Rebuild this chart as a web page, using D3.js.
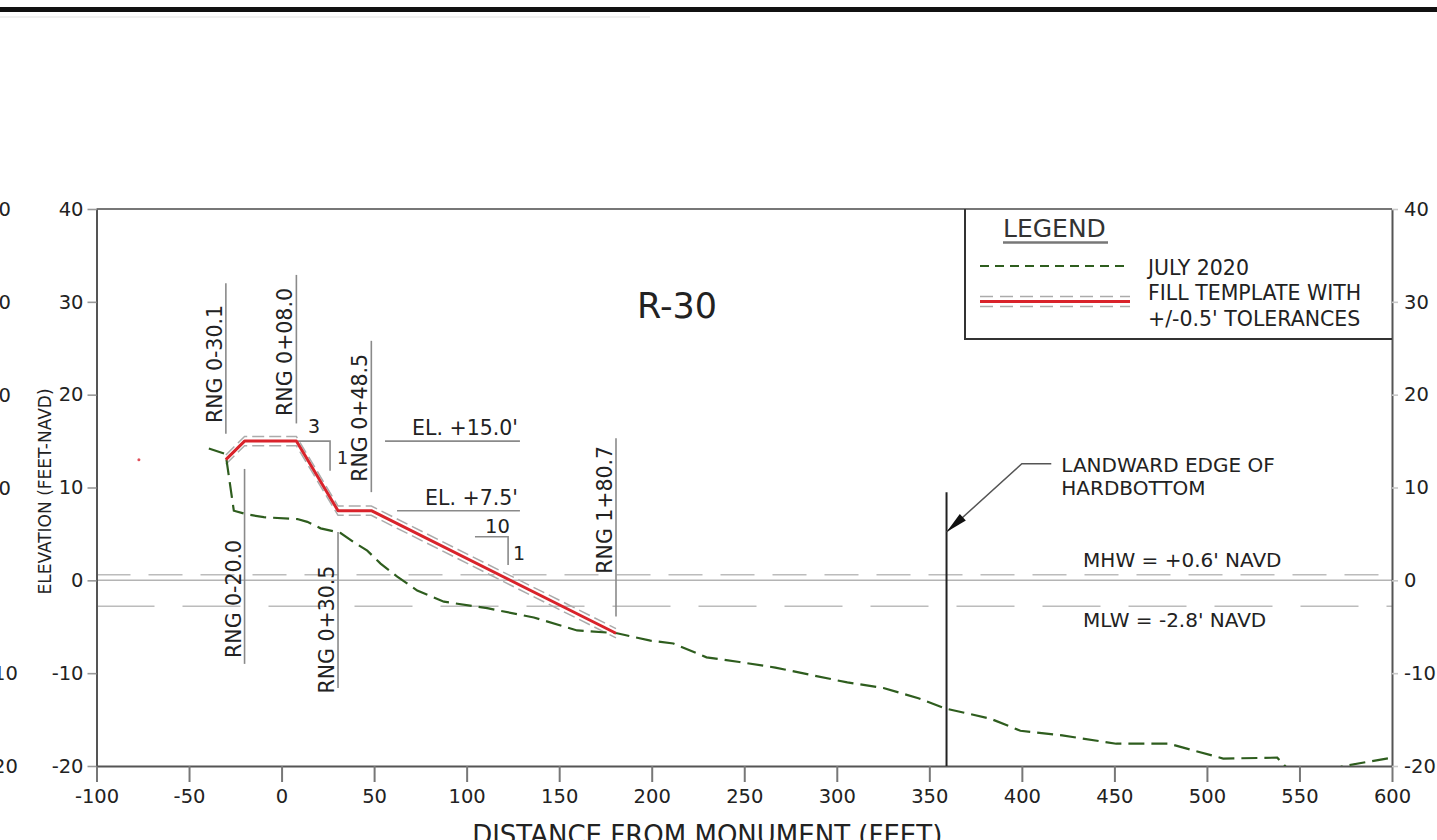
<!DOCTYPE html>
<html>
<head>
<meta charset="utf-8">
<script src="https://cdn.jsdelivr.net/npm/d3@7"></script>
<style>
  html, body { margin: 0; padding: 0; background: #fff; }
  svg { display: block; font-family: "DejaVu Sans", Verdana, sans-serif; }
</style>
</head>
<body>
<svg id="chart" width="1437" height="840"></svg>
<script>
// Beach profile R-30: July 2020 survey against the fill template

// July 2020 survey (distance from monument, ft / elevation, ft NAVD)
const surveyDist = [-39.3, -30.2, -25.8, -18.5, -9.6, 8.5, 13.9, 21.1, 31.9, 39.1, 46.3, 53.5, 62.5, 73.3,
  87.7, 111.1, 136.3, 159.7, 181.3, 199.3, 211.7, 229.6, 247.4, 266.8, 286.3, 305.7, 325.2, 344.1,
  358.6, 383.0, 399.2, 421.8, 451.0, 479.6, 508.8, 538.0, 545.0, 566.0, 574.0, 600.0];
const surveyElev = [14.2, 13.6, 7.5, 7.1, 6.8, 6.6, 6.3, 5.6, 5.1, 4.1, 3.2, 1.8, 0.4, -1.1,
  -2.3, -3.0, -4.0, -5.4, -5.7, -6.5, -6.8, -8.3, -8.8, -9.4, -10.2, -11.0, -11.6, -12.7,
  -13.8, -14.9, -16.2, -16.7, -17.6, -17.6, -19.2, -19.1, -20.6, -20.5, -20.0, -19.1];

// Fill template break points
const templateDist = [-30.1, -20.0, 8.0, 30.5, 48.5, 180.7];
const templateElev = [13.0, 15.0, 15.0, 7.5, 7.5, -5.7];
const tolerance = 0.5;

// Axis ticks
const xTicks = [-100, -50, 0, 50, 100, 150, 200, 250, 300, 350, 400, 450, 500, 550, 600];
const yTicks = [-20, -10, 0, 10, 20, 30, 40];

// Range (station) call-outs
const rangeStations = [-30.1, 8.0, 48.5, -20.0, 30.5, 180.7];
const rangeLabels = ["RNG 0-30.1", "RNG 0+08.0", "RNG 0+48.5", "RNG 0-20.0", "RNG 0+30.5", "RNG 1+80.7"];
const rangeTop = [32.0, 32.9, 25.8, 12.0, 5.2, 15.3];
const rangeBottom = [15.8, 16.9, 9.5, -9.0, -11.6, -3.9];
const rangeLabelElev = [23.3, 24.6, 17.5, -2.0, -5.3, 7.6];

// Design elevation call-outs
const elevLabels = ["EL. +15.0'", "EL. +7.5'"];
const elevValues = [15.0, 7.5];
const elevStart = [55.9, 62.4];
const elevEnd = [128.8, 128.8];

// Slope call-outs (run, rise)
const slopeRun = ["3", "10"];
const slopeRise = ["1", "1"];
const slopeX0 = [8.9, 104.5];
const slopeX1 = [26.2, 122.4];
const slopeTopElev = [15.0, 4.7];
const slopeBotElev = [11.8, 1.65];

// Tidal datums
const tideElev = [0.6, -2.8];
const tideLabels = ["MHW = +0.6' NAVD", "MLW = -2.8' NAVD"];
const tideLabelElev = [1.47, -5.0];
const tideLabelStation = 433.1;

// Landward edge of hardbottom
const hardbottomStation = 359.3;
const hardbottomTop = 9.5;
const arrowTipElev = 5.2;
const leaderElbow = [400.0, 12.57];
const leaderEnd = [415.9, 12.57];

const svg = d3.select("#chart");
const W = 1437, H = 840;

const x = d3.scaleLinear().domain([-100, 600]).range([96.5, 1392]);
const y = d3.scaleLinear().domain([-20, 40]).range([766, 209]);

const ink = "#222";
const fmt = d => String(d);   // plain hyphen for negatives

// Sheet border at top
svg.append("line").attr("x1", 0).attr("x2", W).attr("y1", 9.5).attr("y2", 9.5)
  .attr("stroke", "#111").attr("stroke-width", 5);
svg.append("line").attr("x1", 0).attr("x2", 650).attr("y1", 17).attr("y2", 17)
  .attr("stroke", "#f0f0f0").attr("stroke-width", 2);

// Elevation labels of the neighbouring sheet, cut off at the left edge
svg.append("g").selectAll("text").data(yTicks).join("text")
  .attr("x", -14).attr("y", d => y(d)).attr("dy", "0.36em")
  .attr("font-size", 19.5).attr("fill", ink).text(fmt);

// Clip region for the plotted profiles
svg.append("defs").append("clipPath").attr("id", "plotClip")
  .append("rect").attr("x", x(-100)).attr("y", y(40))
  .attr("width", x(600) - x(-100)).attr("height", y(-20) - y(40));

const plot = svg.append("g");

// Zero reference line
plot.append("line").attr("x1", x(-100)).attr("x2", x(600)).attr("y1", y(0)).attr("y2", y(0))
  .attr("stroke", "#b4b4b4").attr("stroke-width", 1.5);

// MHW / MLW lines
plot.selectAll(".tide").data(tideElev).join("line")
  .attr("class", "tide")
  .attr("x1", x(-100)).attr("x2", x(600))
  .attr("y1", d => y(d)).attr("y2", d => y(d))
  .attr("stroke", "#bcbcbc").attr("stroke-width", 1.5)
  .attr("stroke-dasharray", (d, i) => i === 0 ? "34,18" : "58,28");
plot.selectAll(".tideLabel").data(tideLabels).join("text")
  .attr("class", "tideLabel")
  .attr("x", x(tideLabelStation)).attr("y", (d, i) => y(tideLabelElev[i]))
  .attr("font-size", 20).attr("fill", ink).text(d => d);

// Frame top edge
plot.append("line").attr("x1", x(-100)).attr("x2", x(600)).attr("y1", y(40)).attr("y2", y(40))
  .attr("stroke", "#777").attr("stroke-width", 2);

// Axes
const styleAxis = (g, tickColor) => {
  g.select(".domain").attr("stroke", "#555").attr("stroke-width", 2);
  g.selectAll(".tick line").attr("stroke", tickColor).attr("stroke-width", 1.6);
  g.selectAll(".tick text").attr("font-size", 19.5).attr("fill", ink)
    .attr("font-family", '"DejaVu Sans", Verdana, sans-serif');
};
const bottomAxis = svg.append("g").attr("transform", `translate(0,${y(-20)})`)
  .call(d3.axisBottom(x).tickValues(xTicks).tickFormat(fmt).tickSize(16).tickPadding(7).tickSizeOuter(0));
styleAxis(bottomAxis, "#777");
bottomAxis.selectAll(".tick line").attr("stroke-width", 2);

const leftAxis = svg.append("g").attr("transform", `translate(${x(-100)},0)`)
  .call(d3.axisLeft(y).tickValues(yTicks).tickFormat(fmt).tickSize(9).tickPadding(4).tickSizeOuter(0));
styleAxis(leftAxis, "#999");

const rightAxis = svg.append("g").attr("transform", `translate(${x(600)},0)`)
  .call(d3.axisRight(y).tickValues(yTicks).tickFormat(fmt).tickSize(6).tickPadding(6).tickSizeOuter(0));
styleAxis(rightAxis, "#c8c8c8");

// Axis titles
svg.append("text").attr("transform", `translate(50.5,${(y(-20) + y(40)) / 2 + 4}) rotate(-90)`)
  .attr("text-anchor", "middle").attr("font-size", 17).attr("fill", ink)
  .text("ELEVATION (FEET-NAVD)");
svg.append("text").attr("x", x(230)).attr("y", 844)
  .attr("text-anchor", "middle").attr("font-size", 26).attr("fill", ink)
  .text("DISTANCE FROM MONUMENT (FEET)");

// Profile title
svg.append("text").attr("x", x(213.7)).attr("y", y(28.3))
  .attr("text-anchor", "middle").attr("font-size", 35).attr("fill", ink).text("R-30");

// Range call-out leaders and labels
const rng = svg.append("g");
rng.selectAll("line").data(rangeStations).join("line")
  .attr("x1", d => x(d)).attr("x2", d => x(d))
  .attr("y1", (d, i) => y(rangeTop[i])).attr("y2", (d, i) => y(rangeBottom[i]))
  .attr("stroke", "#8a8a8a").attr("stroke-width", 1.6);
rng.selectAll("text").data(rangeLabels).join("text")
  .attr("transform", (d, i) => `translate(${x(rangeStations[i]) - 4},${y(rangeLabelElev[i])}) rotate(-90)`)
  .attr("text-anchor", "middle").attr("font-size", 20.5).attr("fill", ink).text(d => d);

// Design elevation call-outs
const el = svg.append("g");
el.selectAll("line").data(elevValues).join("line")
  .attr("x1", (d, i) => x(elevStart[i])).attr("x2", (d, i) => x(elevEnd[i]))
  .attr("y1", d => y(d)).attr("y2", d => y(d))
  .attr("stroke", "#8a8a8a").attr("stroke-width", 1.6);
el.selectAll("text").data(elevLabels).join("text")
  .attr("x", (d, i) => x(elevEnd[i]) - 2).attr("y", (d, i) => y(elevValues[i]) - 6)
  .attr("text-anchor", "end").attr("font-size", 20.5).attr("fill", ink).text(d => d);

// Slope call-outs
const sl = svg.append("g");
slopeRun.forEach((run, i) => {
  sl.append("path")
    .attr("d", `M${x(slopeX0[i])},${y(slopeTopElev[i])}H${x(slopeX1[i])}V${y(slopeBotElev[i])}`)
    .attr("fill", "none").attr("stroke", "#8a8a8a").attr("stroke-width", 1.6);
  sl.append("text").attr("x", (x(slopeX0[i]) + x(slopeX1[i])) / 2 + (i === 0 ? 0 : 6))
    .attr("y", y(slopeTopElev[i]) - (i === 0 ? 8 : 4))
    .attr("text-anchor", "middle").attr("font-size", i === 0 ? 19 : 19.5).attr("fill", ink).text(run);
  sl.append("text").attr("x", x(slopeX1[i]) + (i === 0 ? 7 : 5))
    .attr("y", (y(slopeTopElev[i]) + y(slopeBotElev[i])) / 2 + (i === 0 ? 8 : 9))
    .attr("font-size", i === 0 ? 17.5 : 19).attr("fill", ink).text(slopeRise[i]);
});

// Landward edge of hardbottom
const hb = svg.append("g");
hb.append("line").attr("x1", x(hardbottomStation)).attr("x2", x(hardbottomStation))
  .attr("y1", y(hardbottomTop)).attr("y2", y(-20))
  .attr("stroke", "#222").attr("stroke-width", 2);
const tip = [x(hardbottomStation), y(arrowTipElev)];
const elbow = [x(leaderElbow[0]), y(leaderElbow[1])];
hb.append("path")
  .attr("d", `M${x(leaderEnd[0])},${y(leaderEnd[1])}L${elbow[0]},${elbow[1]}L${tip[0]},${tip[1]}`)
  .attr("fill", "none").attr("stroke", "#555").attr("stroke-width", 1.5);
{
  const dx = tip[0] - elbow[0], dy = tip[1] - elbow[1];
  const len = Math.hypot(dx, dy), ux = dx / len, uy = dy / len;
  const hl = 22, hw = 4.5;
  const bx = tip[0] - ux * hl, by = tip[1] - uy * hl;
  hb.append("path")
    .attr("d", `M${tip[0]},${tip[1]}L${bx - uy * hw},${by + ux * hw}L${bx + uy * hw},${by - ux * hw}Z`)
    .attr("fill", "#111");
}
hb.append("text").attr("x", x(leaderEnd[0]) + 10).attr("y", y(leaderEnd[1]) + 8.5)
  .attr("font-size", 20).attr("fill", ink).text("LANDWARD EDGE OF");
hb.append("text").attr("x", x(leaderEnd[0]) + 10).attr("y", y(leaderEnd[1]) + 31)
  .attr("font-size", 20).attr("fill", ink).text("HARDBOTTOM");

// Profiles
const surveyPts = surveyDist.map((d, i) => [d, surveyElev[i]]);
const templatePts = templateDist.map((d, i) => [d, templateElev[i]]);
const line = d3.line().x(d => x(d[0])).y(d => y(d[1]));

const profiles = svg.append("g").attr("clip-path", "url(#plotClip)");
[tolerance, -tolerance].forEach(off => {
  profiles.append("path")
    .attr("d", line(templatePts.map(p => [p[0], p[1] + off])))
    .attr("fill", "none").attr("stroke", "#ababab").attr("stroke-width", 1.5)
    .attr("stroke-dasharray", "12,5");
});
profiles.append("path").attr("d", line(surveyPts))
  .attr("fill", "none").attr("stroke", "#2e5d1e").attr("stroke-width", 2.2)
  .attr("stroke-dasharray", "16,7");
profiles.append("path").attr("d", line(templatePts))
  .attr("fill", "none").attr("stroke", "#d9232b").attr("stroke-width", 3)
  .attr("stroke-linejoin", "round");

// Small stray mark left of the profile
svg.append("circle").attr("cx", x(-77.1)).attr("cy", y(13.0)).attr("r", 1.5).attr("fill", "#e0505a");

// Legend
const lg = svg.append("g");
lg.append("path").attr("d", `M965,${y(40)}V339H${x(600)}`)
  .attr("fill", "none").attr("stroke", "#333").attr("stroke-width", 2);
lg.append("text").attr("x", 1003).attr("y", 236.5).attr("font-size", 25).attr("fill", "#333").text("LEGEND");
lg.append("line").attr("x1", 1003).attr("x2", 1108).attr("y1", 242.5).attr("y2", 242.5)
  .attr("stroke", "#777").attr("stroke-width", 2.5);
lg.append("line").attr("x1", 980).attr("x2", 1128).attr("y1", 266).attr("y2", 266)
  .attr("stroke", "#2e5d1e").attr("stroke-width", 2.2).attr("stroke-dasharray", "9,6");
lg.append("text").attr("x", 1148).attr("y", 275).attr("font-size", 20.5).attr("fill", ink).text("JULY 2020");
[-5, 5].forEach(off => {
  lg.append("line").attr("x1", 980).attr("x2", 1130).attr("y1", 301.5 + off).attr("y2", 301.5 + off)
    .attr("stroke", "#ababab").attr("stroke-width", 1.5).attr("stroke-dasharray", "13,7");
});
lg.append("line").attr("x1", 980).attr("x2", 1130).attr("y1", 301.5).attr("y2", 301.5)
  .attr("stroke", "#d9232b").attr("stroke-width", 3);
lg.append("text").attr("x", 1148).attr("y", 300).attr("font-size", 20.5).attr("fill", ink).text("FILL TEMPLATE WITH");
lg.append("text").attr("x", 1148).attr("y", 326).attr("font-size", 20.5).attr("fill", ink).text("+/-0.5' TOLERANCES");
</script>
</body>
</html>
